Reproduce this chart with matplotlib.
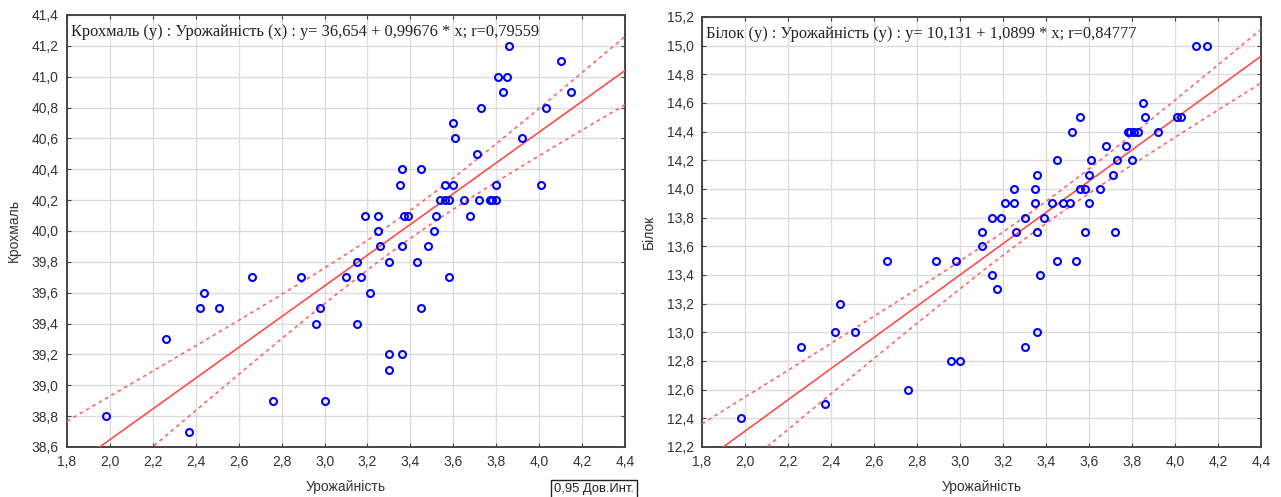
import numpy as np
import matplotlib
matplotlib.use("Agg")
import matplotlib.pyplot as plt
from matplotlib.ticker import MultipleLocator, FuncFormatter

# yield (x) vs starch
yield_starch = [1.98, 2.26, 2.37, 2.42, 2.44, 2.51, 2.66, 2.76, 2.89, 2.96, 2.98, 3.00,
                3.10, 3.15, 3.15, 3.17, 3.21, 3.19, 3.25, 3.25, 3.26, 3.30, 3.30, 3.30,
                3.35, 3.36, 3.36, 3.36, 3.37, 3.39, 3.43, 3.45, 3.45, 3.48, 3.51, 3.52,
                3.54, 3.56, 3.56, 3.58, 3.58, 3.60, 3.60, 3.61, 3.65, 3.68, 3.71, 3.72,
                3.73, 3.77, 3.78, 3.80, 3.80, 3.81, 3.83, 3.85, 3.86, 3.92, 4.01, 4.03,
                4.10, 4.15]
starch = [38.8, 39.3, 38.7, 39.5, 39.6, 39.5, 39.7, 38.9, 39.7, 39.4, 39.5, 38.9,
          39.7, 39.8, 39.4, 39.7, 39.6, 40.1, 40.1, 40.0, 39.9, 39.8, 39.2, 39.1,
          40.3, 40.4, 39.9, 39.2, 40.1, 40.1, 39.8, 40.4, 39.5, 39.9, 40.0, 40.1,
          40.2, 40.3, 40.2, 40.2, 39.7, 40.7, 40.3, 40.6, 40.2, 40.1, 40.5, 40.2,
          40.8, 40.2, 40.2, 40.2, 40.3, 41.0, 40.9, 41.0, 41.2, 40.6, 40.3, 40.8,
          41.1, 40.9]

# yield (x) vs protein
yield_protein = [1.98, 2.26, 2.37, 2.42, 2.44, 2.51, 2.66, 2.76, 2.89, 2.96, 2.98, 3.00,
                 3.10, 3.10, 3.15, 3.15, 3.17, 3.19, 3.21, 3.25, 3.25, 3.26, 3.30, 3.30,
                 3.35, 3.35, 3.36, 3.36, 3.36, 3.37, 3.39, 3.43, 3.45, 3.45, 3.48, 3.51,
                 3.52, 3.54, 3.56, 3.56, 3.58, 3.58, 3.60, 3.60, 3.61, 3.65, 3.68, 3.71,
                 3.72, 3.73, 3.77, 3.78, 3.79, 3.80, 3.81, 3.83, 3.85, 3.86, 3.92, 4.01,
                 4.03, 4.10, 4.15]
protein = [12.4, 12.9, 12.5, 13.0, 13.2, 13.0, 13.5, 12.6, 13.5, 12.8, 13.5, 12.8,
           13.7, 13.6, 13.8, 13.4, 13.3, 13.8, 13.9, 14.0, 13.9, 13.7, 13.8, 12.9,
           14.0, 13.9, 14.1, 13.7, 13.0, 13.4, 13.8, 13.9, 14.2, 13.5, 13.9, 13.9,
           14.4, 13.5, 14.5, 14.0, 14.0, 13.7, 14.1, 13.9, 14.2, 14.0, 14.3, 14.1,
           13.7, 14.2, 14.3, 14.4, 14.4, 14.2, 14.4, 14.4, 14.6, 14.5, 14.4, 14.5,
           14.5, 15.0, 15.0]

# coefficients as printed on the chart
starch_fit = (36.654, 0.99676)
protein_fit = (10.131, 1.0899)

titles = ["Крохмаль (у) : Урожайність (х) : y= 36,654 + 0,99676 * x; r=0,79559",
          "Білок (у) : Урожайність (у) : y= 10,131 + 1,0899 * x; r=0,84777"]
ylabels = ["Крохмаль", "Білок"]
xlabel = "Урожайність"
ylims = [(38.6, 41.4), (12.2, 15.2)]

W, H = 1281, 497


def comma_fmt(v, pos):
    return f"{v:.1f}".replace(".", ",")


def draw_panel(ax, x, y, fit, title, ylabel, ylim):
    x = np.asarray(x)
    y = np.asarray(y)
    a, b = fit
    n = len(x)
    xx = np.linspace(1.8, 4.4, 200)
    line = a + b * xx
    # 95% confidence band of the regression line
    resid = y - (a + b * x)
    s = np.sqrt(np.sum(resid ** 2) / (n - 2))
    xm = x.mean()
    sxx = np.sum((x - xm) ** 2)
    half = 2.0 * s * np.sqrt(1.0 / n + (xx - xm) ** 2 / sxx)

    ax.plot(xx, line, color="#ff4c4c", lw=1.2, zorder=3)
    ax.plot(xx, line + half, color="#ff6666", lw=1.2, ls=(0, (2.2, 2.2)), zorder=3)
    ax.plot(xx, line - half, color="#ff6666", lw=1.2, ls=(0, (2.2, 2.2)), zorder=3)
    ax.plot(x, y, "o", mfc="none", mec="#0000ff", mew=1.5, ms=5, zorder=4)

    ax.set_xlim(1.8, 4.4)
    ax.set_ylim(*ylim)
    ax.xaxis.set_major_locator(MultipleLocator(0.2))
    ax.yaxis.set_major_locator(MultipleLocator(0.2))
    ax.xaxis.set_major_formatter(FuncFormatter(comma_fmt))
    ax.yaxis.set_major_formatter(FuncFormatter(comma_fmt))
    ax.grid(True, color="#dcdcdc", lw=1.0, zorder=0)
    ax.set_axisbelow(True)
    ax.tick_params(direction="in", length=3, top=True, right=True,
                   labelsize=10, labelcolor="#333333", color="#444444", pad=6)
    for sp in ax.spines.values():
        sp.set_color("#444444")
        sp.set_linewidth(1.4)
    ax.set_xlabel(xlabel, fontsize=10, color="#333333", labelpad=8)
    ax.set_ylabel(ylabel, fontsize=10, color="#333333", labelpad=8)
    ax.text(0.007, 0.96, title, transform=ax.transAxes, ha="left", va="center",
            fontsize=11.8, family="Liberation Serif", color="#222222")


plt.rcParams["font.family"] = ["Liberation Sans", "DejaVu Sans"]
fig = plt.figure(figsize=(W / 100, H / 100), dpi=100)

ax1 = fig.add_axes([67 / W, 1 - 447 / H, 558 / W, 432 / H])
ax2 = fig.add_axes([702 / W, 1 - 447 / H, 559 / W, 430 / H])

draw_panel(ax1, yield_starch, starch, starch_fit, titles[0], ylabels[0], ylims[0])
draw_panel(ax2, yield_protein, protein, protein_fit, titles[1], ylabels[1], ylims[1])

fig.text(554 / W, 1 - 489 / H, "0,95 Дов.Инт.", fontsize=9.4, color="#222222",
         ha="left", va="center",
         bbox=dict(boxstyle="square,pad=0.25", fc="white", ec="#222222", lw=1.0))

fig.savefig("out.png", dpi=100)
